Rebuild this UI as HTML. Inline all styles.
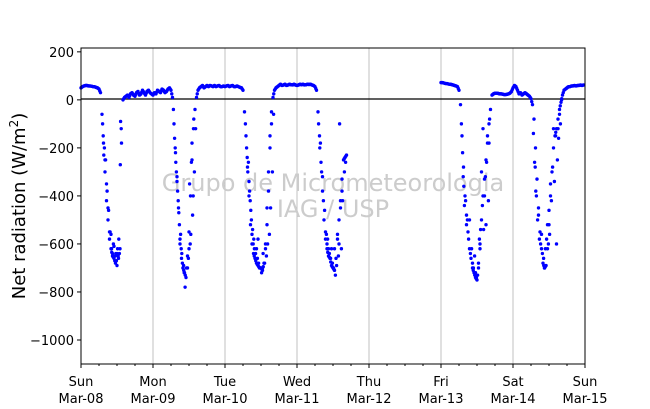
<!DOCTYPE html>
<html><head><meta charset="utf-8"><style>
body{margin:0;background:#fff;}
svg{display:block;font-family:"DejaVu Sans","Liberation Sans",sans-serif;}
</style></head><body>
<svg id="chart" width="650" height="409">
<g id="grid"></g>
<line x1="81" x2="585" y1="99" y2="99" stroke="#000" stroke-width="1.2"/>
<text x="333" y="191" text-anchor="middle" font-size="24" fill="#cccccc">Grupo de Micrometeorologia</text>
<text x="333" y="217" text-anchor="middle" font-size="24" fill="#cccccc">IAG / USP</text>
<g id="pts"></g>
<rect x="81" y="48" width="504" height="316" fill="none" stroke="#000" stroke-width="1"/>
<g id="axes"></g>
<text transform="translate(25,206) rotate(-90)" text-anchor="middle" font-size="18">Net radiation (W/m<tspan font-size="12" dy="-7">2</tspan><tspan dy="7">)</tspan></text>
</svg>
<script>
const dayNames=["Sun","Mon","Tue","Wed","Thu","Fri","Sat","Sun"];
const dateLabels=["Mar-08","Mar-09","Mar-10","Mar-11","Mar-12","Mar-13","Mar-14","Mar-15"];
const yTicks=[200,0,-200,-400,-600,-800,-1000];
const N=null;
const day0=[50,55,58,60,60,58,58,57,55,55,52,50,45,30,-60,-180,-250,-350,-450,-550,-620,-650,-660,-680,-640,-660,-620,-180,0,10,15,20,10,25,30,20,15,30,35,20,25,40,30,20,35,40,30,25];
const day1=[20,30,25,40,35,30,45,40,30,35,45,50,40,10,-100,-220,-320,-450,-580,-660,-700,-720,-740,-650,-550,-400,-250,-120,-40,10,40,50,55,60,50,55,60,55,60,58,55,60,55,58,60,55,55,58];
const day2=[55,58,60,55,58,60,55,55,58,55,52,50,40,-50,-150,-280,-400,-520,-600,-640,-660,-680,-690,-700,-700,-710,-680,-600,-450,-300,-150,-50,10,40,50,55,60,65,60,62,65,60,62,65,63,62,65,62];
const day3=[60,62,65,63,65,62,63,65,64,65,62,60,55,40,-50,-150,-260,-380,-500,-580,-620,-650,-660,-690,-700,-710,-660,-580,-500,-420,-330,-250,-240,-230,N,N,N,N,N,N,N,N,N,N,N,N,N,N];
const day4=new Array(48).fill(N);
const day5=[72,72,70,68,68,66,65,64,62,60,58,55,40,-20,-150,-280,-400,-480,-550,-620,-660,-700,-720,-740,-750,-680,-600,-500,-400,-330,-250,-150,-100,-40,20,25,28,28,27,25,25,24,22,22,23,25,28,35];
const day6=[50,60,55,40,25,30,20,25,30,25,20,15,5,-20,-80,-200,-330,-450,-550,-620,-680,-700,-690,-620,-520,-400,-300,-200,-150,-120,-80,-40,-10,20,40,45,50,55,55,58,58,60,58,60,60,62,60,62];
const days=[day0,day1,day2,day3,day4,day5,day6];
const extraHours=[7.2,7.4,7.6,7.8,8,8.2,8.5,8.7,9,9.2,9.5,9.7,10,10.2,10.5,10.8,11,11.3,11.6,11.8,12,12.2,12.4,12.6,12.8,13.1,13.2,13.4,
30.8,31.2,31.4,31.6,31.8,32,32.2,32.4,32.6,32.8,33,33.2,33.4,33.6,33.8,34,34.2,34.4,34.7,35.2,35.5,35.8,36,36.2,36.4,36.6,36.8,37,37.2,37.4,37.6,37.8,38.2,
54.8,55.2,55.4,55.6,55.8,56,56.2,56.4,56.6,56.8,57,57.2,57.4,57.6,57.8,58.2,58.5,58.8,59,59.2,59.8,60.2,60.5,60.7,61.2,61.5,61.8,62,62.2,62.5,62.8,63,63.2,63.5,63.8,64.2,
79.2,79.6,79.8,80.2,80.5,80.8,81.2,81.5,81.8,82,82.2,82.5,82.8,83.2,83.5,83.8,84.2,84.5,84.8,85.2,85.5,85.8,86,86.2,86.5,86.8,87,87.2,87.8,88.2,
126.8,127.2,127.4,127.6,127.8,128.2,128.5,128.8,129.2,129.5,129.8,130.2,130.5,130.8,131.2,131.5,131.8,132.2,132.5,132.8,133,133.2,133.5,133.8,134,134.2,134.5,134.8,135,135.2,135.5,135.8,136,136.2,
150.8,151.2,151.4,151.6,151.8,152.2,152.5,152.8,153.2,153.5,153.8,154.2,154.5,154.8,155,155.2,155.5,155.8,156,156.2,156.5,156.8,157.2,157.5,157.8,158.2,158.5,158.8,159,159.2,159.5,159.8,160.2];
const extraVals=[-100,-150,-230,-200,-300,-250,-420,-380,-500,-460,-580,-550,-560,-620,-640,-600,-610,-650,-640,-670,-690,-620,-650,-580,-640,-270,-90,-120,
-40,-160,-200,-260,-300,-340,-380,-420,-470,-520,-600,-560,-620,-640,-680,-700,-690,-720,-780,-700,-700,-660,-620,-350,-600,-560,-260,-180,-480,-400,-80,-300,-120,
-100,-200,-240,-300,-260,-340,-380,-420,-460,-500,-560,-540,-600,-580,-620,-640,-620,-660,-580,-680,-700,-720,-700,-640,-680,-620,-650,-520,-600,-380,-560,-200,-450,-100,-300,-60,
-100,-200,-180,-300,-320,-420,-460,-550,-560,-600,-580,-620,-640,-660,-620,-680,-700,-620,-730,-690,-560,-650,-600,-100,-450,-620,-380,-420,-300,-260,
-100,-220,-320,-360,-440,-420,-520,-500,-580,-500,-640,-620,-680,-700,-650,-720,-740,-730,-700,-580,-620,-540,-300,-440,-120,-540,-400,-320,-520,-260,-180,-420,-180,-80,
-140,-260,-280,-380,-400,-500,-480,-580,-600,-560,-640,-660,-700,-620,-690,-580,-520,-600,-460,-560,-350,-420,-280,-120,-340,-150,-600,-250,-120,-160,-60,-100,0];

const X0=81,X1=585,Y0=364,Y1=48,YMIN=-1100,YMAX=216;
const xs=h=>X0+h/168*(X1-X0);
const ys=v=>Y0-(v-YMIN)/(YMAX-YMIN)*(Y0-Y1);
const NS="http://www.w3.org/2000/svg";
const grid=document.getElementById('grid'),axes=document.getElementById('axes'),pts=document.getElementById('pts');
function mk(tag,attrs,parent){const e=document.createElementNS(NS,tag);for(const k in attrs)e.setAttribute(k,attrs[k]);parent.appendChild(e);return e;}
for(let d=0;d<=7;d++){
  const x=xs(d*24);
  if(d>0&&d<7){const g=mk('line',{x1:x,x2:x,y1:Y1,y2:Y0,stroke:'#c0c0c0','stroke-width':1},grid);
  
  }
  const t=mk('line',{x1:x,x2:x,y1:Y0,y2:Y0+4,stroke:'#000'},axes);
  
  
  const l=mk('text',{x:x,y:386,'text-anchor':'middle','font-size':13},axes);
  
  
  mk('tspan',{x:x,dy:0},l).textContent=dayNames[d];
  mk('tspan',{x:x,dy:17},l).textContent=dateLabels[d];
  if(d<7){for(let m=1;m<4;m++){const mx=xs(d*24+m*6);const mt=mk('line',{x1:mx,x2:mx,y1:Y0,y2:Y0+2,stroke:'#000'},axes);
  
  }}
}
yTicks.forEach(v=>{const y=ys(v);
  const t=mk('line',{x1:X0-4,x2:X0,y1:y,y2:y,stroke:'#000'},axes);
  
  
  const l=mk('text',{x:X0-7,y:y+5,'text-anchor':'end','font-size':13},axes);
  
  
  l.textContent=(v<0?'\u2212':'')+Math.abs(v);
});
function dot(h,v){const c=mk('circle',{cx:xs(h),cy:ys(v),r:1.7,fill:'#0000ff'},pts);
  
  }
days.forEach((arr,d)=>{arr.forEach((v,i)=>{if(v===null)return;const h=d*24+i/2;dot(h,v);
  const nx=arr[i+1]!==undefined?arr[i+1]:(days[d+1]?days[d+1][0]:null);
  if(nx!==null&&nx!==undefined&&Math.abs(nx-v)<40){dot(h+0.25,(v+nx)/2);}});});
extraHours.forEach((h,i)=>{if(extraVals[i]!==undefined)dot(h,extraVals[i]);});
</script>
</body></html>
